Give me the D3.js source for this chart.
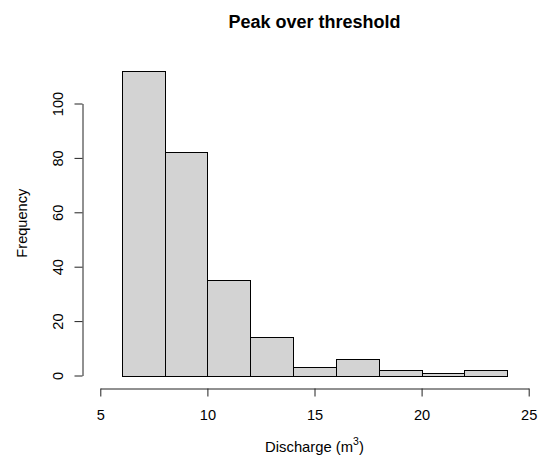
<!DOCTYPE html>
<html>
<head>
<meta charset="utf-8">
<script src="https://cdn.jsdelivr.net/npm/d3@7"></script>
<style>
  body { margin: 0; background: #fff; }
  text { font-family: "Liberation Sans", Arial, sans-serif; fill: #000; }
</style>
</head>
<body>
<div id="chart"></div>
<script>
// Histogram data (bin edges and counts)
let breaks = [6, 8, 10, 12, 14, 16, 18, 20, 22, 24];
let counts = [112, 82, 35, 14, 3, 6, 2, 1, 2];
let xTicks = [5, 10, 15, 20, 25];
let yTicks = [0, 20, 40, 60, 80, 100];

let width = 542;
let height = 460;

let svg = d3.select('#chart')
	.append('svg')
	.attr('width', width)
	.attr('height', height)

// plot region as R sets it up (xlim 5..25, ylim 0..112, 4% padding)
let x = d3.scaleLinear().domain([5, 25]).range([100.3, 528.7]);
let y = d3.scaleLinear().domain([0, 100]).range([375.5, 103.5]);

let bins = counts.map(function(c, i){
	return {x0: breaks[i], x1: breaks[i + 1], n: c};
});

// bars
svg.append('g')
	.selectAll('rect')
	.data(bins)
	.enter()
	.append('rect')
	.attr('x', function(d){ return Math.round(x(d.x0)) + 0.5; })
	.attr('y', function(d){ return Math.round(y(d.n)) + 0.5; })
	.attr('width', function(d){ return Math.round(x(d.x1)) - Math.round(x(d.x0)); })
	.attr('height', function(d){ return Math.round(y(0)) - Math.round(y(d.n)); })
	.attr('fill', '#d3d3d3')
	.attr('stroke', '#000')
	.attr('stroke-width', 1)

// x axis
let axisY = 388.5;
let xAxis = svg.append('g')
	.attr('transform', 'translate(0,' + axisY + ')')
	.call(d3.axisBottom(x).tickValues(xTicks).tickSize(8).tickPadding(13).tickSizeOuter(0));
xAxis.select('.domain').attr('stroke', '#222');
xAxis.selectAll('line').attr('stroke', '#222');
xAxis.selectAll('text').attr('font-size', 14.6).attr('font-family', '"Liberation Sans", Arial, sans-serif');

// y axis
let axisX = 82.5;
let yAxis = svg.append('g')
	.attr('transform', 'translate(' + axisX + ',0)')
	.call(d3.axisLeft(y).tickValues(yTicks).tickSize(8).tickSizeOuter(0));
yAxis.select('.domain').attr('stroke', '#222');
yAxis.selectAll('line').attr('stroke', '#222');
yAxis.selectAll('.tick text')
	.attr('x', 0)
	.attr('dy', 0)
	.attr('font-size', 14.6)
	.attr('font-family', '"Liberation Sans", Arial, sans-serif')
	.attr('text-anchor', 'middle')
	.attr('transform', 'translate(-20,0) rotate(-90)')

// titles
svg.append('text')
	.text('Peak over threshold')
	.attr('x', 314.5)
	.attr('y', 28)
	.attr('text-anchor', 'middle')
	.attr('font-weight', 'bold')
	.attr('font-size', 18)

let xlab = svg.append('text')
	.attr('x', 314.5)
	.attr('y', 452)
	.attr('text-anchor', 'middle')
	.attr('font-size', 14.8)
xlab.append('tspan').text('Discharge (m');
xlab.append('tspan').text('3').attr('font-size', 10.5).attr('dy', -7);
xlab.append('tspan').text(')').attr('dy', 7);

svg.append('text')
	.text('Frequency')
	.attr('transform', 'translate(27,' + y(56) + ') rotate(-90)')
	.attr('text-anchor', 'middle')
	.attr('font-size', 14.6)
</script>
</body>
</html>
